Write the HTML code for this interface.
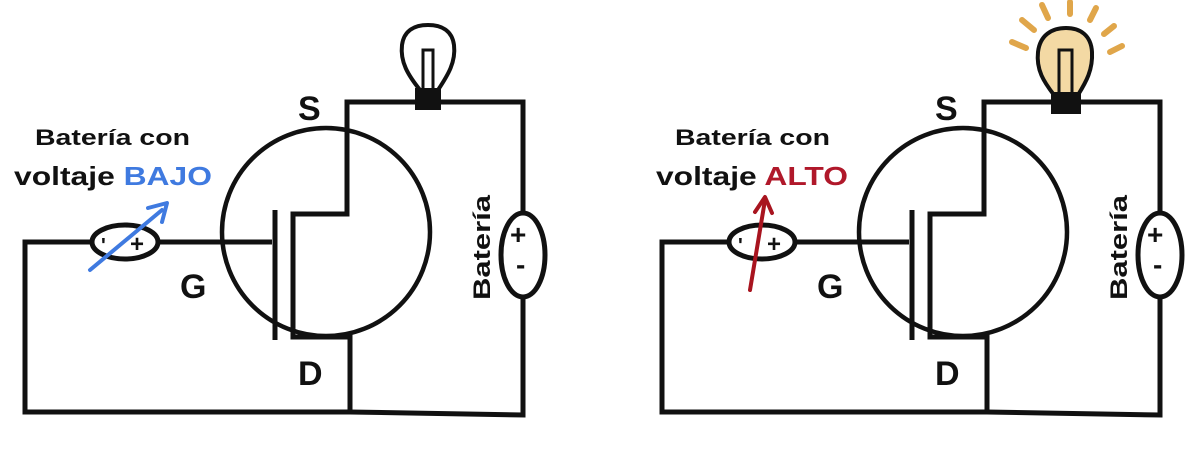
<!DOCTYPE html>
<html><head><meta charset="utf-8"><style>
html,body{margin:0;padding:0;background:#fff;}
svg{display:block}
text{font-family:"Liberation Sans",Arial,sans-serif;font-weight:bold;}
</style></head><body>
<svg width="1200" height="450" viewBox="0 0 1200 450" xmlns="http://www.w3.org/2000/svg">
<defs>
<g id="circ" fill="none" stroke="#111" stroke-width="5" stroke-linejoin="miter">
  <path d="M92,242 H25 V412 H350 L523,415 V295"/>
  <path d="M158,242 H272"/>
  <ellipse cx="125" cy="242" rx="33" ry="17"/>
  <circle cx="326" cy="232" r="104" stroke-width="4.5"/>
  <path d="M275,210 V340"/>
  <path d="M350,412 V337 H293 V214 H347 V102 H523 V215"/>
  <ellipse cx="523" cy="255" rx="22" ry="42"/>
  <rect x="415" y="88" width="26" height="22" fill="#111" stroke="none"/>
</g>
</defs>
<use href="#circ"/>
<use href="#circ" transform="translate(637,0)"/>
<!-- left bulb -->
<g fill="none" stroke="#111" stroke-width="4">
  <path d="M420,90 C408,75 400,62 402,45 C404,30 415,25 428,25 C441,25 452,30 454,45 C456,62 448,75 438,90 Z" fill="#fff"/>
  <path d="M423,88 V50 H433 V88" stroke-width="3"/>
</g>
<!-- right bulb glow -->
<g stroke="#e0a64a" stroke-width="6" stroke-linecap="round">
  <line x1="1012" y1="42" x2="1026" y2="48"/>
  <line x1="1022" y1="20" x2="1034" y2="30"/>
  <line x1="1042" y1="5" x2="1048" y2="18"/>
  <line x1="1070" y1="2" x2="1070" y2="14"/>
  <line x1="1096" y1="8" x2="1090" y2="20"/>
  <line x1="1114" y1="26" x2="1104" y2="34"/>
  <line x1="1122" y1="46" x2="1110" y2="52"/>
</g>
<g fill="none" stroke="#111" stroke-width="4">
  <path d="M1054,95 C1044,82 1036,70 1038,52 C1040,35 1052,28 1066,28 C1080,28 1091,35 1092,52 C1093,70 1086,82 1078,95 Z" fill="#f3d9a4"/>
  <path d="M1059,92 V50 H1072 V92" stroke-width="3"/>
</g>
<rect x="1051" y="92" width="30" height="22" fill="#111"/>
<!-- labels -->
<g fill="#111">
  <text x="35" y="145" font-size="22" textLength="155" lengthAdjust="spacingAndGlyphs">Batería con</text>
  <text x="14" y="185" font-size="26" textLength="198" lengthAdjust="spacingAndGlyphs">voltaje <tspan fill="#3f7ae0">BAJO</tspan></text>
  <text x="298" y="120" font-size="34">S</text>
  <text x="180" y="298" font-size="34">G</text>
  <text x="298" y="385" font-size="34">D</text>
  <text transform="translate(490,300) rotate(-90)" font-size="24" textLength="105" lengthAdjust="spacingAndGlyphs">Batería</text>
  <text x="130" y="252" font-size="24">+</text>
  <text x="101" y="252" font-size="20">'</text>
  <text x="510" y="244" font-size="28">+</text>
  <text x="516" y="274" font-size="28">-</text>

  <text x="675" y="145" font-size="22" textLength="155" lengthAdjust="spacingAndGlyphs">Batería con</text>
  <text x="656" y="185" font-size="26" textLength="192" lengthAdjust="spacingAndGlyphs">voltaje <tspan fill="#b0182a">ALTO</tspan></text>
  <text x="935" y="120" font-size="34">S</text>
  <text x="817" y="298" font-size="34">G</text>
  <text x="935" y="385" font-size="34">D</text>
  <text transform="translate(1127,300) rotate(-90)" font-size="24" textLength="105" lengthAdjust="spacingAndGlyphs">Batería</text>
  <text x="767" y="252" font-size="24">+</text>
  <text x="738" y="252" font-size="20">'</text>
  <text x="1147" y="244" font-size="28">+</text>
  <text x="1153" y="274" font-size="28">-</text>
</g>
<!-- arrows -->
<g stroke="#3f7ae0" stroke-width="4" fill="none" stroke-linecap="round">
  <line x1="90" y1="270" x2="162" y2="210"/>
  <path d="M148,208 L167,203 L162,222" stroke-linejoin="round"/>
</g>
<g stroke="#a8141f" stroke-width="4" fill="none" stroke-linecap="round">
  <line x1="750" y1="290" x2="765" y2="200"/>
  <path d="M755,212 L765,197 L772,213" stroke-linejoin="round"/>
</g>
</svg>
</body></html>
